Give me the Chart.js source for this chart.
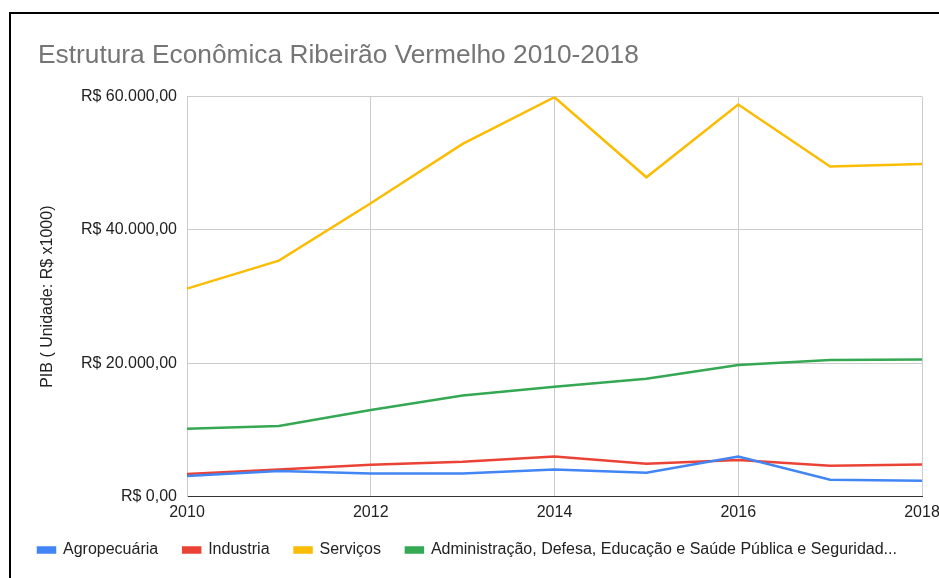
<!DOCTYPE html>
<html>
<head>
<meta charset="utf-8">
<script src="https://cdn.jsdelivr.net/npm/chart.js@4.4.1/dist/chart.umd.min.js"></script>
<style>
  html, body { margin: 0; padding: 0; background: #fff; overflow: hidden; }
  #frame {
    position: absolute; left: 9px; top: 12px; width: 1000px; height: 700px;
    border-top: 2px solid #000; border-left: 2px solid #000;
  }
  #wrap { position: absolute; left: 0; top: 0; width: 960px; height: 578px; }
</style>
</head>
<body>
<div id="frame"></div>
<div id="wrap"><canvas id="chart"></canvas></div>
<script>
// anos e valores (R$ x1000)
const years = ['2010', '2011', '2012', '2013', '2014', '2015', '2016', '2017', '2018'];
const agro = [3100, 3850, 3500, 3500, 4100, 3600, 6050, 2550, 2400];
const industria = [3400, 4100, 4800, 5250, 6050, 4950, 5500, 4650, 4850];
const servicos = [31200, 35400, 44000, 52900, 59900, 47900, 58800, 49500, 49900];
const admin = [10200, 10600, 13000, 15200, 16500, 17700, 19750, 20500, 20600];
const yTicks = [0, 20000, 40000, 60000];

function brl(v) {
    // formato R$ 60.000,00
    const s = Math.round(v).toString().replace(/\B(?=(\d{3})+(?!\d))/g, '.');
    return 'R$ ' + s + ',00';
}

const font = 'Arial, "Liberation Sans", sans-serif';

function serie(label, values, color) {
    return {
        label: label,
        data: values,
        borderColor: color,
        backgroundColor: color,
        borderWidth: 2.5,
        pointRadius: 0,
        tension: 0,
        fill: false
    };
}

// move o titulo para a esquerda do quadro
const titleShift = {
    id: 'titleShift',
    afterLayout(chart) {
        if (chart.titleBlock) chart.titleBlock.left = 38;
    }
};

new Chart(document.getElementById('chart'), {
    type: 'line',
    data: {
        labels: years,
        datasets: [
            serie('Agropecuária', agro, '#4285F4'),
            serie('Industria', industria, '#EA4335'),
            serie('Serviços', servicos, '#FBBC04'),
            serie('Administração, Defesa, Educação e Saúde Pública e Seguridad...', admin, '#34A853')
        ]
    },
    options: {
        responsive: true,
        maintainAspectRatio: false,
        devicePixelRatio: 1,
        animation: false,
        layout: { padding: { left: 13, right: 38, top: 40, bottom: 10 } },
        plugins: {
            title: {
                display: true,
                text: 'Estrutura Econômica Ribeirão Vermelho 2010-2018',
                align: 'start',
                color: '#757575',
                font: { family: font, size: 26.3, weight: 'normal' },
                padding: { top: 0, bottom: 25 }
            },
            legend: {
                position: 'bottom',
                align: 'start',
                labels: {
                    boxWidth: 17,
                    boxHeight: 5,
                    padding: 25,
                    color: '#222',
                    font: { family: font, size: 16 }
                }
            },
            tooltip: { enabled: false }
        },
        scales: {
            x: {
                afterFit: (s) => { s.height = s.height - 11; },
                grid: {
                    drawTicks: false,
                    color: (c) => (c.index % 2 === 0 ? '#cccccc' : 'rgba(0,0,0,0)')
                },
                border: { color: '#333333', width: 1 },
                ticks: {
                    autoSkip: false,
                    maxRotation: 0,
                    padding: 6,
                    color: '#222',
                    font: { family: font, size: 16 },
                    callback: function (v, i) { return i % 2 === 0 ? years[i] : ''; }
                }
            },
            y: {
                min: 0,
                max: 60000,
                afterFit: (s) => { s.width = 174; },
                afterBuildTicks: (s) => { s.ticks = yTicks.map(v => ({ value: v })); },
                grid: {
                    drawTicks: false,
                    color: (c) => (c.tick && c.tick.value === 0 ? '#333333' : '#cccccc')
                },
                border: { color: '#cccccc' },
                ticks: {
                    padding: 10,
                    color: '#222',
                    font: { family: font, size: 16 },
                    callback: (v) => brl(v)
                },
                title: {
                    display: true,
                    text: 'PIB ( Unidade: R$ x1000)',
                    color: '#222',
                    font: { family: font, size: 16 },
                    padding: { top: 25, bottom: 0 }
                }
            }
        }
    },
    plugins: [titleShift]
});
</script>
</body>
</html>
